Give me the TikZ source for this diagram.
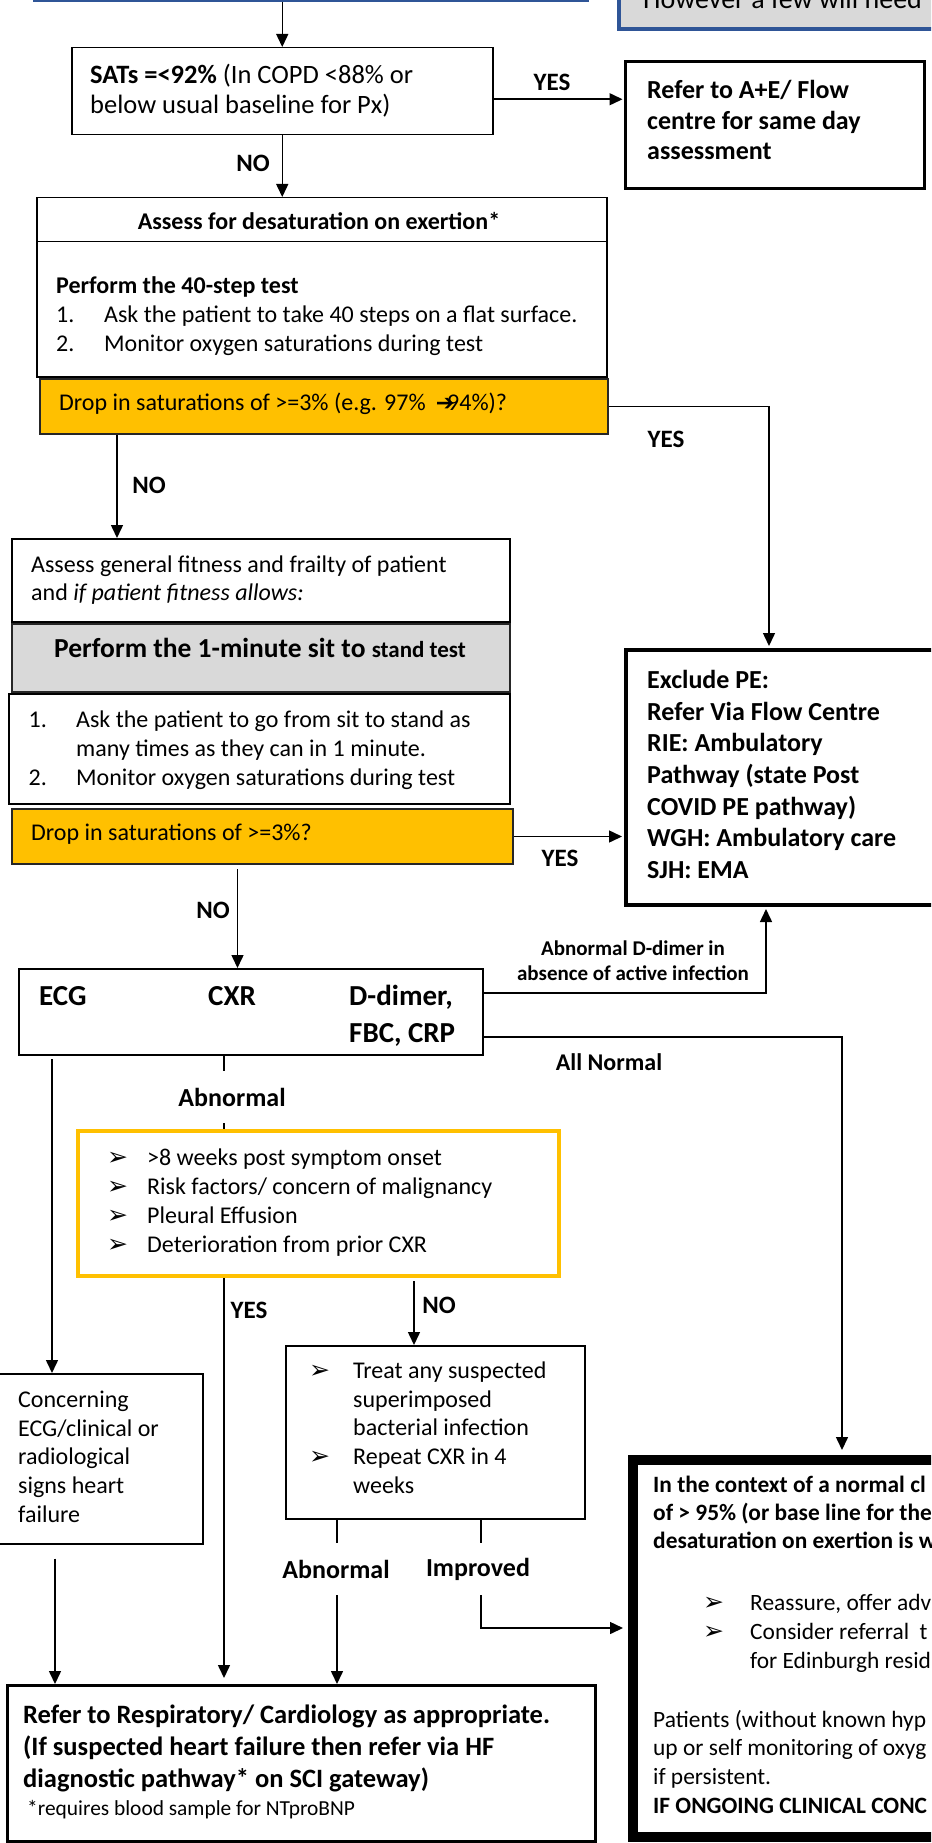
\documentclass[tikz,border=0pt]{standalone}
\usepackage{fontspec}
\setmainfont{Carlito}
\newfontfamily\symfont{DejaVu Sans}
\usetikzlibrary{arrows.meta}

\definecolor{hdblue}{RGB}{47,85,151}
\definecolor{hdgray}{RGB}{217,217,217}
\definecolor{amber}{RGB}{255,192,0}

\newcommand\fsz[2]{\fontsize{#1}{#2}\selectfont}
\newcommand\bul[1]{\makebox[#1][l]{{\symfont\fsz{25}{28}➢}}}

\begin{document}
\begin{tikzpicture}[x=1pt,y=-1pt,
    box/.style={draw, line width=1.5pt, anchor=north west, inner sep=0pt},
    txt/.style={anchor=north west, inner sep=0pt, align=left},
    lbl/.style={inner sep=0pt, font=\fsz{25}{30}\bfseries},
    arr/.style={line width=1.5pt, -{Triangle[length=13pt,width=12pt]}},
    link/.style={line width=1.5pt}]

    \useasboundingbox (0,0) rectangle (931,1843);
    \clip (0,0) rectangle (931,1843);

    % columns and rows the connectors run on
    \coordinate (nocol) at (117,0);
    \coordinate (ddcol) at (237.5,0);
    \coordinate (pecol) at (769,0);
    \coordinate (pecol2) at (766,0);
    \coordinate (nrmcol) at (842,0);
    \coordinate (ecgcol) at (52,0);
    \coordinate (cxrcol) at (224,0);
    \coordinate (trcol) at (414,0);
    \coordinate (ccol) at (55,0);
    \coordinate (abcol) at (337,0);
    \coordinate (imcol) at (481,0);
    \coordinate (r1) at (0,993);
    \coordinate (r2) at (0,1037);
    \coordinate (r3) at (0,1628);

    % boxes cut off at the top
    \node[box, draw=hdblue, line width=4pt, minimum width=552, minimum height=50, anchor=south west] (intro) at (33,2) {};
    \node[box, draw=hdblue, fill=hdgray, line width=3.5pt, minimum width=340, minimum height=80, anchor=south west] (note) at (617,31) {};
    \node[txt, anchor=base west, font=\fsz{28}{34}] (noteT) at (643,9) {However a few will need};

    % SATs
    \node[box, minimum width=421, minimum height=87] (sats) at (71,47) {};
    \node[txt, font=\fsz{26.5}{30}] (satsT) at (90,62) {\strut\textbf{SATs =<92\%} (In COPD <88\% or\\below usual baseline for Px)};
    \node[box, line width=3.3pt, minimum width=299, minimum height=127] (refae) at (624,60) {};
    \node[txt, font=\fsz{26}{30.5}\bfseries] (refaeT) at (647,77) {\strut Refer to A+E/ Flow\\centre for same day\\assessment};

    % 40-step test
    \node[box, minimum width=570, minimum height=44] (ahead) at (36,197) {};
    \node[box, minimum width=570, minimum height=135] (abody) at (36,241) {};
    \node[anchor=base, inner sep=0pt, font=\fsz{24}{29}\bfseries] (aheadT) at (319,230) {Assess for desaturation on exertion*};
    \node[txt, font=\fsz{24}{29}] (abodyT) at (56,273) {\strut\textbf{Perform the 40-step test}\\\makebox[48pt][l]{1.}Ask the patient to take 40 steps on a flat surface.\\\makebox[48pt][l]{2.}Monitor oxygen saturations during test};
    \node[box, draw=black!85, line width=2pt, fill=amber, minimum width=568, minimum height=55] (drop1) at (39,378) {};
    \node[txt, anchor=base west, font=\fsz{24}{29}] (drop1T) at (59,410) {Drop in saturations of >=3\% (e.g. 97\%\hspace{10pt}{\symfont\fsz{22}{26}➔}\kern-7pt 94\%)?};

    % sit to stand test
    \node[box, minimum width=498, minimum height=83] (fit) at (11,538) {};
    \node[txt, font=\fsz{24}{28}] (fitT) at (31,552.4) {\strut Assess general fitness and frailty of patient\\and \textit{if patient fitness allows:}};
    \node[box, draw=black!85, line width=2pt, fill=hdgray, minimum width=498, minimum height=68] (sst) at (11,623) {};
    \node[anchor=base, inner sep=0pt, font=\fsz{27.5}{33}\bfseries] (sstT) at (260,657) {Perform the 1-minute sit to {\fsz{23}{28}stand test}};
    \node[box, minimum width=501, minimum height=110] (ssl) at (8,693) {};
    \node[txt, font=\fsz{24}{29}] (sslT) at (28.5,706.7) {\strut\makebox[47.5pt][l]{1.}Ask the patient to go from sit to stand as\\\hspace*{47.5pt}many times as they can in 1 minute.\\\makebox[47.5pt][l]{2.}Monitor oxygen saturations during test};
    \node[box, draw=black!85, line width=2pt, fill=amber, minimum width=501, minimum height=55] (drop2) at (11,808) {};
    \node[txt, anchor=base west, font=\fsz{24}{29}] (drop2T) at (31,840) {Drop in saturations of >=3\%?};

    % exclude PE
    \node[box, line width=4pt, minimum width=400, minimum height=255] (excl) at (624,648) {};
    \node[txt, font=\fsz{26}{31.7}\bfseries] (exclT) at (647,666) {\strut Exclude PE:\\Refer Via Flow Centre\\RIE: Ambulatory\\Pathway (state Post\\COVID PE pathway)\\WGH: Ambulatory care\\SJH: EMA};

    % tests
    \node[box, line width=2pt, minimum width=464, minimum height=86] (tests) at (18,968) {};
    \node[anchor=base west, inner sep=0pt, font=\fsz{29}{37}\bfseries] (ecgT) at (39,1005) {ECG};
    \node[anchor=base west, inner sep=0pt, font=\fsz{29}{37}\bfseries] (cxrT) at (208,1005) {CXR};
    \node[txt, font=\fsz{29}{37}\bfseries] (ddT) at (349,979.1) {\strut D-dimer,\\FBC, CRP};

    % CXR branch
    \node[box, draw=amber, line width=4pt, minimum width=481, minimum height=145] (malig) at (76,1129) {};
    \node[txt, font=\fsz{24}{29}] (maligT) at (107,1144.7) {\strut\bul{40pt}>8 weeks post symptom onset\\\bul{40pt}Risk factors/ concern of malignancy\\\bul{40pt}Pleural Effusion\\\bul{40pt}Deterioration from prior CXR};
    \node[box, line width=2pt, minimum width=299, minimum height=173] (treat) at (285,1345) {};
    \node[txt, font=\fsz{24}{28.75}] (treatT) at (309,1358) {\strut\bul{44pt}Treat any suspected\\\hspace*{44pt}superimposed\\\hspace*{44pt}bacterial infection\\\bul{44pt}Repeat CXR in 4\\\hspace*{44pt}weeks};
    \node[box, minimum width=204, minimum height=170] (conc) at (-2,1373) {};
    \node[txt, font=\fsz{24}{28.75}] (concT) at (18,1387) {\strut Concerning\\ECG/clinical or\\radiological\\signs heart\\failure};

    % referral boxes
    \node[box, line width=3pt, minimum width=588, minimum height=156] (resp) at (6,1684) {};
    \node[txt, font=\fsz{26.5}{32}\bfseries] (respT) at (23,1700.6) {\strut Refer to Respiratory/ Cardiology as appropriate.\\(If suspected heart failure then refer via HF\\diagnostic pathway* on SCI gateway)};
    \node[anchor=base west, inner sep=0pt, font=\fsz{21.4}{26}] (respN) at (27,1815) {*requires blood sample for NTproBNP};
    \node[box, line width=10pt, minimum width=400, minimum height=377] (nrm) at (628,1455) {};
    \node[txt, font=\fsz{23.4}{28}\bfseries] (nrmA) at (653,1472.4) {\strut In the context of a normal cl\\of > 95\% (or base line for the\\desaturation on exertion is w};
    \node[txt, font=\fsz{23.4}{29}] (nrmB) at (703,1589.7) {\strut\bul{47pt}Reassure, offer adv\\\bul{47pt}Consider referral\ \ t\\\hspace*{47pt}for Edinburgh resid};
    \node[txt, font=\fsz{23.4}{28.7}] (nrmC) at (653,1706.9) {\strut Patients (without known hyp\\up or self monitoring of oxyg\\if persistent.\\\textbf{IF ONGOING CLINICAL CONC}};

    % labels
    \node[lbl] (yes1) at (552,82) {YES};
    \node[lbl] (no1) at (253,163) {NO};
    \node[lbl] (yes2) at (666,439) {YES};
    \node[lbl] (no2) at (149,485) {NO};
    \node[lbl] (yes3) at (560,858) {YES};
    \node[lbl] (no3) at (213,910) {NO};
    \node[align=center, inner sep=0pt, anchor=north, font=\fsz{21}{25}\bfseries] (ddlbl) at (633,937.5) {\strut Abnormal D-dimer in\\absence of active infection};
    \node[lbl, font=\fsz{24}{29}\bfseries] (allnorm) at (609,1062) {All Normal};
    \node[lbl, font=\fsz{26}{31}\bfseries, minimum height=52] (abn1) at (232,1097) {Abnormal};
    \node[lbl] (yes4) at (249,1310) {YES};
    \node[lbl] (no4) at (439,1305) {NO};
    \node[lbl, font=\fsz{26}{31}\bfseries, minimum height=52] (abn2) at (336,1569) {Abnormal};
    \node[lbl, font=\fsz{26}{31}\bfseries, minimum height=52] (impr) at (478,1569) {Improved};

    % connectors
    \draw[arr] (intro.south -| sats.north) -- (sats.north);
    \draw[arr, shorten >=1.5pt] ([yshift=-8pt]sats.east) -- ([yshift=-8pt]sats.east -| refae.west);
    \draw[arr] (sats.south) -- (sats.south |- ahead.north);
    \draw[link, arr, shorten >=2pt] (drop1.east) -| (excl.north -| pecol);
    \draw[arr] (drop1.south -| nocol) -- (fit.north -| nocol);
    \draw[arr, shorten >=2pt] (drop2.east) -- (drop2.east -| excl.west);
    \draw[arr, shorten <=4pt] (drop2.south -| ddcol) -- (tests.north -| ddcol);
    \draw[arr, shorten >=2pt] (tests.east |- r1) -| (excl.south -| pecol2);
    \draw[arr, shorten >=5pt] (tests.east |- r2) -| (nrm.north -| nrmcol);
    \draw[arr, shorten <=3pt] (tests.south -| ecgcol) -- (conc.north -| ecgcol);
    \draw[link] (tests.south -| cxrcol) -- (abn1.north -| cxrcol);
    \draw[link] (abn1.south -| cxrcol) -- (malig.north -| cxrcol);
    \draw[arr, shorten >=6pt] (malig.south -| cxrcol) -- (resp.north -| cxrcol);
    \draw[arr, shorten <=3pt] (malig.south -| trcol) -- (treat.north -| trcol);
    \draw[arr, shorten <=14pt] (conc.south -| ccol) -- (resp.north -| ccol);
    \draw[link] (treat.south -| abcol) -- (abn2.north -| abcol);
    \draw[arr] (abn2.south -| abcol) -- (resp.north -| abcol);
    \draw[link] (treat.south -| imcol) -- (impr.north -| imcol);
    \draw[arr, shorten >=5pt] (impr.south -| imcol) |- (r3 -| nrm.west);
\end{tikzpicture}
\end{document}
